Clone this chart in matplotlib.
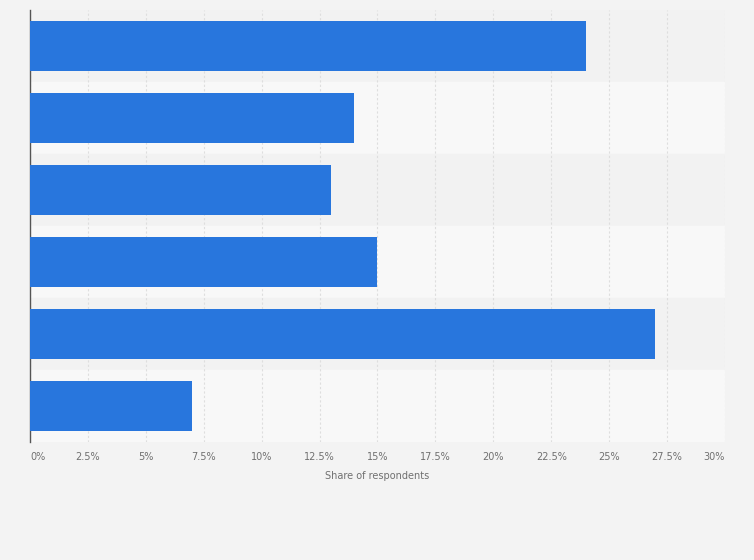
import numpy as np
import matplotlib.pyplot as plt
from matplotlib.ticker import FuncFormatter

# Data (categories have no visible labels)
categories = ['A', 'B', 'C', 'D', 'E', 'F']
shares = [24, 14, 13, 15, 27, 7]
ticks = [0, 2.5, 5, 7.5, 10, 12.5, 15, 17.5, 20, 22.5, 25, 27.5, 30]

fig = plt.figure(figsize=(7.54, 5.6), dpi=100)
fig.patch.set_facecolor('#f3f3f3')
ax = fig.add_axes([30 / 754, 1 - 442 / 560, 695 / 754, 432 / 560])
ax.set_facecolor('#f3f3f3')

y = np.arange(len(categories))
# alternating row bands
for i in y:
    ax.axhspan(i - 0.5, i + 0.5, color='#f2f2f2' if i % 2 == 0 else '#f8f8f8', zorder=0)

ax.barh(y, shares, height=0.7, color='#2876dd', zorder=3)

ax.set_xlim(0, 30)
ax.set_ylim(len(categories) - 0.5, -0.5)
ax.set_xticks(ticks)
ax.xaxis.set_major_formatter(FuncFormatter(lambda v, p: f'{v:g}%'))
ax.set_yticks([])
ax.grid(axis='x', color='#dedede', linestyle=(0, (2, 2)), linewidth=0.8, zorder=1)
ax.tick_params(axis='x', length=0, pad=7, labelsize=7, labelcolor='#707070')
labels = ax.get_xticklabels()
labels[0].set_ha('left')
labels[-1].set_ha('right')

for side in ['top', 'right', 'bottom']:
    ax.spines[side].set_visible(False)
ax.spines['left'].set_color('#555555')
ax.spines['left'].set_linewidth(1)

ax.set_xlabel('Share of respondents', fontsize=7, color='#707070', labelpad=7)

fig.savefig('out.png', dpi=100, facecolor=fig.get_facecolor())
